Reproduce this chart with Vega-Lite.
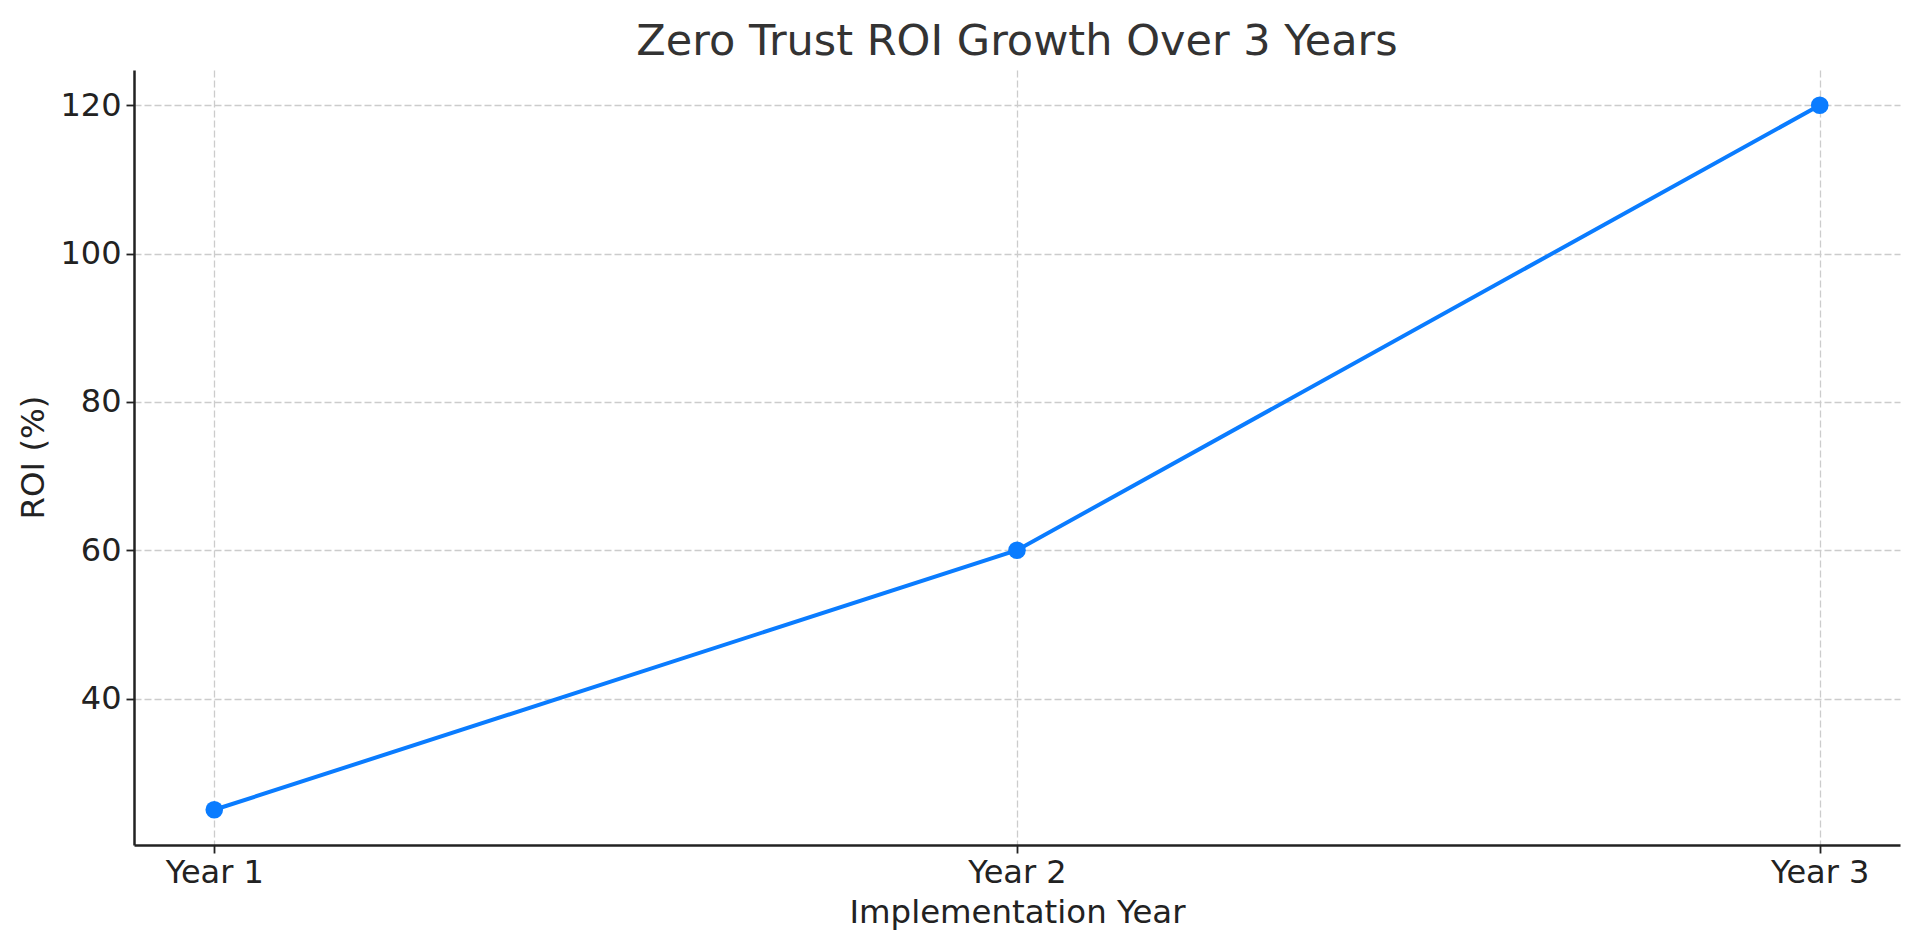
{
  "$schema": "https://vega.github.io/schema/vega-lite/v6.json",
  "width": 1766,
  "height": 775,
  "autosize": {"type": "none"},
  "padding": {"left": 134, "top": 70, "right": 20, "bottom": 105},
  "background": "white",
  "config": {
    "view": {"stroke": null},
    "font": "DejaVu Sans"
  },
  "title": {
    "text": "Zero Trust ROI Growth Over 3 Years",
    "fontSize": 43,
    "font": "DejaVu Sans",
    "fontWeight": "normal",
    "color": "#333333",
    "anchor": "middle",
    "offset": 6
  },
  "data": {
    "values": [
      {"year": 1, "roi": 25},
      {"year": 2, "roi": 60},
      {"year": 3, "roi": 120}
    ]
  },
  "encoding": {
    "x": {
      "field": "year",
      "type": "quantitative",
      "scale": {"domain": [0.9, 3.1], "nice": false, "zero": false},
      "axis": {
        "title": "Implementation Year",
        "values": [1, 2, 3],
        "labelExpr": "'Year ' + datum.value",
        "labelFontSize": 32,
        "labelColor": "#222222",
        "labelFont": "DejaVu Sans",
        "titleFontSize": 32.4,
        "titleFont": "DejaVu Sans",
        "titleFontWeight": "normal",
        "titleColor": "#222222",
        "titleX": 883,
        "titleY": 67,
        "titleAlign": "center",
        "titleBaseline": "middle",
        "domainColor": "#222222",
        "domainWidth": 2.5,
        "tickColor": "#222222",
        "tickWidth": 1.8,
        "tickSize": 8,
        "labelPadding": 4,
        "grid": true,
        "gridColor": "#cccccc",
        "gridDash": [7, 3],
        "gridWidth": 1.3
      }
    },
    "y": {
      "field": "roi",
      "type": "quantitative",
      "scale": {"domain": [20.25, 124.75], "nice": false, "zero": false},
      "axis": {
        "title": "ROI (%)",
        "values": [40, 60, 80, 100, 120],
        "labelFontSize": 32,
        "labelColor": "#222222",
        "labelFont": "DejaVu Sans",
        "titleFontSize": 32.4,
        "titleFont": "DejaVu Sans",
        "titleFontWeight": "normal",
        "titleColor": "#222222",
        "titleX": -101,
        "titleY": 387,
        "titleAngle": -90,
        "titleAlign": "center",
        "titleBaseline": "middle",
        "domainColor": "#222222",
        "domainWidth": 2.5,
        "tickColor": "#222222",
        "tickWidth": 1.8,
        "tickSize": 8,
        "labelPadding": 5,
        "grid": true,
        "gridColor": "#cccccc",
        "gridDash": [7, 3],
        "gridWidth": 1.3
      }
    }
  },
  "layer": [
    {"mark": {"type": "line", "color": "#0a7cff", "strokeWidth": 4}},
    {"mark": {"type": "point", "filled": true, "color": "#0a7cff", "size": 310, "opacity": 1}}
  ]
}
